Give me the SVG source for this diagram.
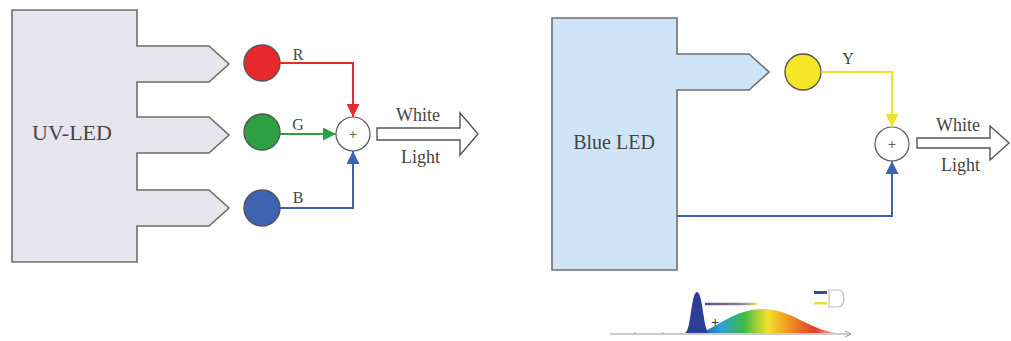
<svg xmlns="http://www.w3.org/2000/svg" width="1011" height="341" viewBox="0 0 1011 341">
<style>
.t{font-family:"Liberation Serif","DejaVu Serif",serif;fill:#454545}
.led{stroke:#6e6e6e;stroke-width:1.6}
.dot{stroke:#555;stroke-width:1.4}
.sum{fill:#fff;stroke:#555;stroke-width:1.2}
.wire{fill:none;stroke-width:2}
.hollow{fill:#fff;stroke:#555;stroke-width:1.4}
</style>
<defs>
<marker id="aR" markerWidth="13" markerHeight="13" refX="13" refY="6.5" orient="auto" markerUnits="userSpaceOnUse"><path d="M0,0 L13,6.5 L0,13 Z" fill="#e52a2a"/></marker>
<marker id="aG" markerWidth="13" markerHeight="13" refX="13" refY="6.5" orient="auto" markerUnits="userSpaceOnUse"><path d="M0,0 L13,6.5 L0,13 Z" fill="#2c9e45"/></marker>
<marker id="aB" markerWidth="13" markerHeight="13" refX="13" refY="6.5" orient="auto" markerUnits="userSpaceOnUse"><path d="M0,0 L13,6.5 L0,13 Z" fill="#3d62b3"/></marker>
<marker id="aY" markerWidth="13" markerHeight="13" refX="13" refY="6.5" orient="auto" markerUnits="userSpaceOnUse"><path d="M0,0 L13,6.5 L0,13 Z" fill="#f0e02a"/></marker>
<linearGradient id="rainbow" x1="700" y1="0" x2="835" y2="0" gradientUnits="userSpaceOnUse">
<stop offset="0" stop-color="#2f4cb8"/><stop offset="0.15" stop-color="#2aa0d8"/><stop offset="0.32" stop-color="#3cb84a"/><stop offset="0.5" stop-color="#f2e22a"/><stop offset="0.68" stop-color="#f08a22"/><stop offset="0.85" stop-color="#e23b2a"/><stop offset="1" stop-color="#f2b8b0"/>
</linearGradient>
<linearGradient id="bar" x1="705" y1="0" x2="757" y2="0" gradientUnits="userSpaceOnUse">
<stop offset="0" stop-color="#5a4a8a"/><stop offset="0.7" stop-color="#8a80a0"/><stop offset="1" stop-color="#f0e060"/>
</linearGradient>
</defs>

<g id="uv-led">
<path class="led" fill="#e6e5ed" d="M12,10 H137 V46 H209 L229,64 L209,82 H137 V117 H209 L229,135 L209,153 H137 V190 H209 L229,208 L209,226 H137 V262 H12 Z"/>
<text class="t" x="72" y="140" font-size="22" text-anchor="middle">UV-LED</text>
</g>
<g id="led-r"><circle class="dot" cx="262" cy="63" r="18" fill="#e8282b"/></g>
<g id="led-g"><circle class="dot" cx="262" cy="132" r="18" fill="#2ca043"/></g>
<g id="led-b"><circle class="dot" cx="262" cy="208" r="18" fill="#3f63b2"/></g>
<g id="sum-left"><circle class="sum" cx="353" cy="134" r="17"/><text class="t" x="353" y="139" font-size="15" text-anchor="middle">+</text></g>
<g id="out-left">
<path class="hollow" d="M377,128 H460 V113 L478,134 L460,155 V140 H377 Z"/>
<text class="t" x="396" y="121" font-size="18">White</text>
<text class="t" x="401" y="163" font-size="18">Light</text>
</g>

<g id="blue-led">
<path class="led" fill="#cfe5f7" d="M552,18 H677 V54 H749 L769,72 L749,90 H677 V270 H552 Z"/>
<text class="t" x="614" y="149" font-size="20" text-anchor="middle">Blue LED</text>
</g>
<g id="led-y"><circle class="dot" cx="803" cy="72" r="18" fill="#f5e526"/></g>
<g id="sum-right"><circle class="sum" cx="892" cy="144" r="17"/><text class="t" x="892" y="149" font-size="15" text-anchor="middle">+</text></g>
<g id="out-right">
<path class="hollow" d="M917,138 H990 V126 L1009,143 L990,160 V148 H917 Z"/>
<text class="t" x="936" y="131" font-size="18">White</text>
<text class="t" x="941" y="171" font-size="18">Light</text>
</g>

<g id="connectors">
<path class="wire" stroke="#e52a2a" d="M280,63 H353 V117" marker-end="url(#aR)"/>
<path class="wire" stroke="#2c9e45" d="M280,134 H336" marker-end="url(#aG)"/>
<path class="wire" stroke="#3d62b3" d="M280,208 H353 V151" marker-end="url(#aB)"/>
<path class="wire" stroke="#f0e02a" d="M821,72 H892 V127" marker-end="url(#aY)"/>
<path class="wire" stroke="#3d62b3" d="M677,216 H892 V161" marker-end="url(#aB)"/>
<text class="t" x="298" y="60" font-size="16" text-anchor="middle">R</text>
<text class="t" x="298" y="130" font-size="16" text-anchor="middle">G</text>
<text class="t" x="298" y="203" font-size="16" text-anchor="middle">B</text>
<text class="t" x="848" y="64" font-size="16" text-anchor="middle">Y</text>
</g>

<g id="spectrum">
<path d="M700,333 C718,327 735,309 763,309 C792,309 808,330 838,333 Z" fill="url(#rainbow)"/>
<path d="M685,333 C691,332 691,292 697,292 C703,292 703,330 709,333 Z" fill="#2c3e96"/>
<line x1="705" y1="304" x2="757" y2="304" stroke="url(#bar)" stroke-width="2.5"/>
<text x="715" y="327" font-family="Liberation Sans, sans-serif" font-size="14" fill="#333" text-anchor="middle">+</text>
<line x1="610" y1="334" x2="850" y2="334" stroke="#999" stroke-width="1"/>
<path d="M845,331 L851,334 L845,337" fill="none" stroke="#999" stroke-width="1"/>
<g stroke="#aaa" stroke-width="1"><line x1="635" y1="332" x2="635" y2="334"/><line x1="663" y1="332" x2="663" y2="334"/></g>
<rect x="814" y="291" width="13" height="3" fill="#3a4a90"/>
<rect x="814" y="302" width="13" height="2.5" fill="#f0d840"/>
<path d="M829,290 H838 C846,290 846,307 838,307 H829 Z" fill="none" stroke="#bbb" stroke-width="1.2"/>
</g>
</svg>
